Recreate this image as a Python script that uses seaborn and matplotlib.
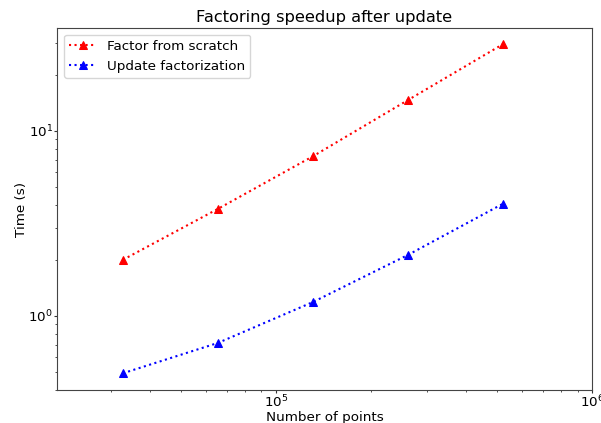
import numpy as np
import pandas as pd
import matplotlib
matplotlib.use("Agg")
import matplotlib.pyplot as plt
import seaborn as sns

# Data
n_points = [32768, 65536, 131072, 262144, 524288]
scratch_time = [2.01, 3.79, 7.3, 14.7, 29.5]
update_time = [0.49, 0.715, 1.19, 2.14, 4.05]

sns.set_style("ticks", {'text.color': 'black', 'axes.labelcolor': 'black',
                        'xtick.color': 'black', 'ytick.color': 'black'})
plt.rcParams['font.family'] = ['DejaVu Sans']

df = pd.DataFrame({
    'n': n_points * 2,
    'time': scratch_time + update_time,
    'method': ['Factor from scratch'] * 5 + ['Update factorization'] * 5,
})

fig = plt.figure(figsize=(6.01, 4.23), dpi=100)
ax = fig.add_axes([0.095, 0.078, 0.89, 0.856])

sns.lineplot(data=df, x='n', y='time', hue='method',
             palette={'Factor from scratch': 'red', 'Update factorization': 'blue'},
             marker='^', markersize=6, linestyle=':', linewidth=1.5, ax=ax)
for line in ax.get_lines():
    line.set_linestyle(':')
    line.set_markeredgecolor(line.get_color())

ax.set_xscale('log')
ax.set_yscale('log')
ax.set_xlim(2.03e4, 1e6)
ax.set_ylim(0.398, 36)
ax.set_title('Factoring speedup after update', fontsize=11.7, pad=4, color='black')
ax.set_xlabel('Number of points', fontsize=9.7, labelpad=0)
ax.set_ylabel('Time (s)', fontsize=9.7, labelpad=0)
ax.tick_params(which='major', labelsize=9.7, length=2, width=0.8, pad=1, color='#333333')
ax.tick_params(which='minor', length=1.5, width=0.6, color='#333333')
for s in ax.spines.values():
    s.set_visible(True)
    s.set_color('#444444')

leg = ax.legend(loc='upper left', fontsize=9.7)
for h in leg.get_lines():
    h.set_linestyle(':')
for t in leg.get_texts():
    t.set_color('black')

fig.savefig('out.png', dpi=100)
